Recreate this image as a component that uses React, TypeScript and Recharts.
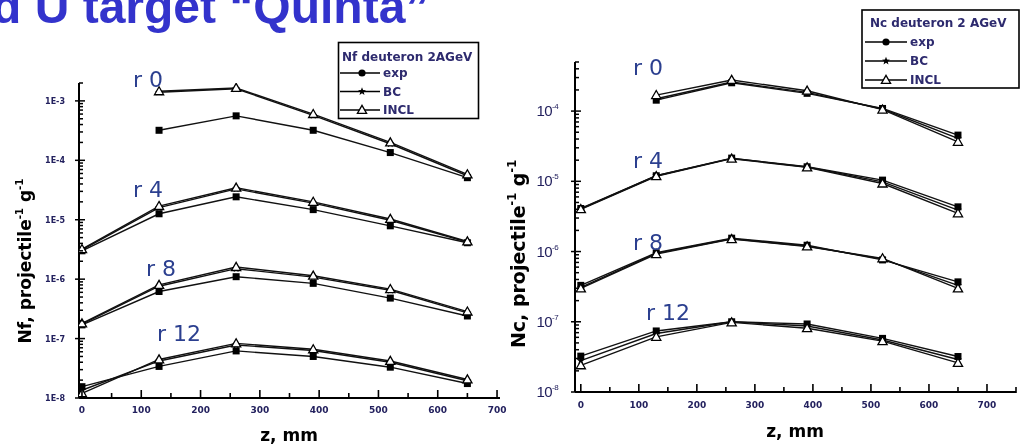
import React from 'react';
import { LineChart, Line, XAxis, YAxis } from 'recharts';

// Positions along the target (z, mm) where the detectors sit
const Z_MM = [0, 130, 260, 390, 520, 650];
const RING_NAMES = ['r 0', 'r 4', 'r 8', 'r 12'];
const MODEL_NAMES = ['exp', 'BC', 'INCL'];

// Nf, projectile^-1 g^-1 (fission rate)
const NF_R0_EXP = [null, 3.2e-4, 5.6e-4, 3.2e-4, 1.35e-4, 5.1e-5];
const NF_R0_BC = [null, 1.4e-3, 1.6e-3, 5.7e-4, 1.9e-4, 5.5e-5];
const NF_R0_INCL = [null, 1.45e-3, 1.65e-3, 6.0e-4, 2.0e-4, 5.8e-5];
const NF_R4_EXP = [3.0e-6, 1.26e-5, 2.43e-5, 1.48e-5, 7.9e-6, 4.1e-6];
const NF_R4_BC = [3.1e-6, 1.6e-5, 3.3e-5, 1.9e-5, 9.8e-6, 4.2e-6];
const NF_R4_INCL = [3.2e-6, 1.7e-5, 3.45e-5, 2.0e-5, 1.03e-5, 4.3e-6];
const NF_R8_EXP = [1.7e-7, 6.2e-7, 1.1e-6, 8.5e-7, 4.8e-7, 2.4e-7];
const NF_R8_BC = [1.75e-7, 7.6e-7, 1.5e-6, 1.08e-6, 6.5e-7, 2.7e-7];
const NF_R8_INCL = [1.8e-7, 8.0e-7, 1.6e-6, 1.14e-6, 6.8e-7, 2.85e-7];
const NF_R12_EXP = [1.55e-8, 3.4e-8, 6.2e-8, 5.0e-8, 3.3e-8, 1.75e-8];
const NF_R12_BC = [1.35e-8, 4.2e-8, 7.8e-8, 6.3e-8, 4.0e-8, 1.95e-8];
const NF_R12_INCL = [1.2e-8, 4.45e-8, 8.3e-8, 6.6e-8, 4.2e-8, 2.05e-8];

// Nc, projectile^-1 g^-1 (capture rate)
const NC_R0_EXP = [null, 1.43e-4, 2.53e-4, 1.79e-4, 1.09e-4, 4.55e-5];
const NC_R0_BC = [null, 1.5e-4, 2.6e-4, 1.85e-4, 1.07e-4, 4.1e-5];
const NC_R0_INCL = [null, 1.69e-4, 2.77e-4, 1.95e-4, 1.05e-4, 3.65e-5];
const NC_R4_EXP = [4.1e-6, 1.2e-5, 2.14e-5, 1.61e-5, 1.04e-5, 4.33e-6];
const NC_R4_BC = [4.05e-6, 1.2e-5, 2.12e-5, 1.6e-5, 9.8e-6, 3.9e-6];
const NC_R4_INCL = [4.0e-6, 1.18e-5, 2.1e-5, 1.58e-5, 9.3e-6, 3.5e-6];
const NC_R8_EXP = [3.3e-7, 9.6e-7, 1.55e-6, 1.23e-6, 7.6e-7, 3.7e-7];
const NC_R8_BC = [3.1e-7, 9.4e-7, 1.52e-6, 1.2e-6, 7.8e-7, 3.3e-7];
const NC_R8_INCL = [2.98e-7, 9.2e-7, 1.5e-6, 1.18e-6, 8.0e-7, 2.98e-7];
const NC_R12_EXP = [3.24e-8, 7.4e-8, 1.0e-7, 9.3e-8, 5.8e-8, 3.2e-8];
const NC_R12_BC = [2.8e-8, 6.8e-8, 1.0e-7, 8.7e-8, 5.5e-8, 2.9e-8];
const NC_R12_INCL = [2.4e-8, 6.1e-8, 9.8e-8, 8.1e-8, 5.3e-8, 2.6e-8];

// Axis ranges and tick values
const NF_Y_DOMAIN: [number, number] = [1e-8, 2e-3];
const NC_Y_DOMAIN: [number, number] = [1e-8, 5e-4];
const NF_X_DOMAIN: [number, number] = [-5, 705];
const NC_X_DOMAIN: [number, number] = [-10, 750];
const NF_X_TICKS = [0, 50, 100, 150, 200, 250, 300, 350, 400, 450, 500, 550, 600, 650, 700];
const NC_X_TICKS = [0, 50, 100, 150, 200, 250, 300, 350, 400, 450, 500, 550, 600, 650, 700, 750];

const NF_TITLE = 'Nf deuteron 2AGeV';
const NC_TITLE = 'Nc deuteron 2 AGeV';

const NF_GROUPS = [
  [NF_R0_EXP, NF_R0_BC, NF_R0_INCL],
  [NF_R4_EXP, NF_R4_BC, NF_R4_INCL],
  [NF_R8_EXP, NF_R8_BC, NF_R8_INCL],
  [NF_R12_EXP, NF_R12_BC, NF_R12_INCL],
];
const NC_GROUPS = [
  [NC_R0_EXP, NC_R0_BC, NC_R0_INCL],
  [NC_R4_EXP, NC_R4_BC, NC_R4_INCL],
  [NC_R8_EXP, NC_R8_BC, NC_R8_INCL],
  [NC_R12_EXP, NC_R12_BC, NC_R12_INCL],
];

const FONT = "'DejaVu Sans', 'Liberation Sans', sans-serif";
const TICK_COLOR = '#23215e';
const RING_COLOR = '#2b3f8f';
const TICK_MARGIN = 10;

function buildRows(groups: (number | null)[][][]) {
  return Z_MM.map((z, i) => {
    const row: Record<string, number | null> = { z };
    groups.forEach((g, ri) => g.forEach((vals, mi) => { row[`s${ri}_${mi}`] = vals[i]; }));
    return row;
  });
}

function logTicks(lo: number, hi: number) {
  const out: number[] = [];
  for (let e = Math.floor(Math.log10(lo)); e <= Math.ceil(Math.log10(hi)); e++) {
    for (let m = 1; m <= 9; m++) {
      const v = parseFloat((m * Math.pow(10, e)).toPrecision(2));
      if (v >= lo * 0.999 && v <= hi * 1.001) out.push(v);
    }
  }
  return out;
}

const NF_ROWS = buildRows(NF_GROUPS);
const NC_ROWS = buildRows(NC_GROUPS);
const NF_Y_TICKS = logTicks(NF_Y_DOMAIN[0], NF_Y_DOMAIN[1]);
const NC_Y_TICKS = logTicks(NC_Y_DOMAIN[0], NC_Y_DOMAIN[1]);

const isDecade = (v: number) => Math.abs(Math.log10(v) - Math.round(Math.log10(v))) < 1e-6;

function starPath(cx: number, cy: number, ro: number, ri: number) {
  const pts: string[] = [];
  for (let k = 0; k < 10; k++) {
    const r = k % 2 === 0 ? ro : ri;
    const a = -Math.PI / 2 + (k * Math.PI) / 5;
    pts.push(`${(cx + r * Math.cos(a)).toFixed(2)},${(cy + r * Math.sin(a)).toFixed(2)}`);
  }
  return `M${pts.join('L')}Z`;
}

function Marker({ model, cx, cy, legend }: { model: number; cx: number; cy: number; legend?: boolean }) {
  if (model === 0) {
    return legend ? (
      <circle cx={cx} cy={cy} r={3.6} fill="#000" />
    ) : (
      <rect x={cx - 3.5} y={cy - 3.5} width={7} height={7} fill="#000" />
    );
  }
  if (model === 1) {
    return <path d={starPath(cx, cy, 4.2, 1.8)} fill="#000" />;
  }
  const s = 4.6;
  return (
    <path
      d={`M${cx},${cy - s}L${cx + s},${cy + s * 0.75}L${cx - s},${cy + s * 0.75}Z`}
      fill="#fff"
      stroke="#000"
      strokeWidth={1.3}
    />
  );
}

const dotRenderer = (model: number) => (p: any) => {
  const { cx, cy, index, value, dataKey } = p;
  const key = `${dataKey}-${index}`;
  if (cx == null || cy == null || value == null || Number.isNaN(cy)) return <g key={key} />;
  return (
    <g key={key}>
      <Marker model={model} cx={cx} cy={cy} />
    </g>
  );
};
const DOT_EXP = dotRenderer(0);
const DOT_BC = dotRenderer(1);
const DOT_INCL = dotRenderer(2);
const DOTS = [DOT_EXP, DOT_BC, DOT_INCL];

// Log axis ticks: short inward marks, decades cross the axis line and carry a label
const YTickE = (p: any) => {
  const v = p.payload.value as number;
  const ax = p.x + TICK_MARGIN;
  const major = isDecade(v);
  return (
    <g>
      <path d={`M${major ? ax - 4 : ax},${p.y}H${ax + (major ? 6 : 4)}`} stroke="#000" strokeWidth={1.5} fill="none" />
      {major ? (
        <text x={ax - 14} y={p.y + 3} textAnchor="end" fontFamily={FONT} fontWeight="bold" fontSize={8} fill={TICK_COLOR}>
          {`1E${Math.round(Math.log10(v))}`}
        </text>
      ) : null}
    </g>
  );
};

const YTickPow = (p: any) => {
  const v = p.payload.value as number;
  const ax = p.x + TICK_MARGIN;
  const major = isDecade(v);
  return (
    <g>
      <path d={`M${major ? ax - 4 : ax},${p.y}H${ax + (major ? 6 : 4)}`} stroke="#000" strokeWidth={1.5} fill="none" />
      {major ? (
        <text x={ax - 17} y={p.y + 5} textAnchor="end" fontFamily="'Liberation Sans', Arial, sans-serif" fontSize={15} fill={TICK_COLOR} letterSpacing={-0.6}>
          10
          <tspan dy={-7} fontSize={8}>{`${Math.round(Math.log10(v))}`}</tspan>
        </text>
      ) : null}
    </g>
  );
};

const XTickNf = (p: any) => {
  const v = p.payload.value as number;
  const ay = p.y - TICK_MARGIN;
  const major = v % 100 === 0;
  return (
    <g>
      <path d={`M${p.x},${ay + 1}V${ay - (major ? 8 : 5)}`} stroke="#000" strokeWidth={1.6} fill="none" />
      {major ? (
        <text x={p.x} y={ay + 15} textAnchor="middle" fontFamily={FONT} fontWeight="bold" fontSize={9} fill={TICK_COLOR}>
          {v}
        </text>
      ) : null}
    </g>
  );
};

const XTickNc = (p: any) => {
  const v = p.payload.value as number;
  const ay = p.y - TICK_MARGIN;
  const major = v % 100 === 0;
  return (
    <g>
      <path d={`M${p.x},${ay + 1}V${ay - (major ? 8 : 5)}`} stroke="#000" strokeWidth={1.6} fill="none" />
      {major ? (
        <text x={p.x} y={ay + 16} textAnchor="middle" fontFamily={FONT} fontWeight="bold" fontSize={9} fill={TICK_COLOR}>
          {v}
        </text>
      ) : null}
    </g>
  );
};

function seriesLines(groups: (number | null)[][][]) {
  return groups.flatMap((g, ri) =>
    g.map((_, mi) => (
      <Line
        key={`s${ri}_${mi}`}
        dataKey={`s${ri}_${mi}`}
        name={`${RING_NAMES[ri]} ${MODEL_NAMES[mi]}`}
        type="linear"
        stroke="#111"
        strokeWidth={1.4}
        dot={DOTS[mi]}
        activeDot={false}
        connectNulls={false}
        isAnimationActive={false}
      />
    ))
  );
}

function LegendBox({ x, y, w, h, title, titleX, titleY, rowYs, lineX0, lineX1, markX, textX }: any) {
  return (
    <g>
      <rect x={x} y={y} width={w} height={h} fill="#fff" stroke="#000" strokeWidth={1.6} />
      <text x={titleX} y={titleY} fontFamily={FONT} fontWeight="bold" fontSize={12} fill="#2d2a6e">{title}</text>
      {MODEL_NAMES.map((m, i) => (
        <g key={m}>
          <line x1={lineX0} x2={lineX1} y1={rowYs[i]} y2={rowYs[i]} stroke="#000" strokeWidth={1.4} />
          <Marker model={i} cx={markX} cy={rowYs[i]} legend />
          <text x={textX} y={rowYs[i] + 4} fontFamily={FONT} fontWeight="bold" fontSize={12} fill="#2d2a6e">{m}</text>
        </g>
      ))}
    </g>
  );
}

function RotatedTitle({ x, y, main, size }: { x: number; y: number; main: string; size: number }) {
  return (
    <text
      transform={`translate(${x},${y}) rotate(-90)`}
      textAnchor="middle"
      fontFamily={FONT}
      fontWeight="bold"
      fontSize={size}
      fill="#000"
    >
      {main}
      <tspan dy={-size * 0.45} fontSize={size * 0.6}>-1</tspan>
      <tspan dy={size * 0.45}> g</tspan>
      <tspan dy={-size * 0.45} fontSize={size * 0.6}>-1</tspan>
    </text>
  );
}

export default function App() {
  const ringText = { fontFamily: FONT, fontSize: 22, fill: RING_COLOR } as const;
  return (
    <div style={{ position: 'fixed', left: 0, top: 0, width: 1026, height: 444 }}>
      <div style={{ position: 'absolute', left: 0, top: 0 }}>
        <LineChart width={513} height={444} data={NF_ROWS} margin={{ top: 83, right: 13, bottom: 16, left: 19 }}>
          <XAxis
            dataKey="z"
            type="number"
            domain={NF_X_DOMAIN}
            allowDataOverflow
            ticks={NF_X_TICKS}
            interval={0}
            tick={XTickNf}
            tickSize={0}
            tickMargin={TICK_MARGIN}
            tickLine={false}
            axisLine={{ stroke: '#000', strokeWidth: 2 }}
            height={30}
          />
          <YAxis
            type="number"
            scale="log"
            domain={NF_Y_DOMAIN}
            allowDataOverflow
            ticks={NF_Y_TICKS}
            interval={0}
            tick={YTickE}
            tickSize={0}
            tickMargin={TICK_MARGIN}
            tickLine={false}
            axisLine={{ stroke: '#000', strokeWidth: 2 }}
            width={60}
          />
          {seriesLines(NF_GROUPS)}
        </LineChart>
      </div>
      <div style={{ position: 'absolute', left: 513, top: 0 }}>
        <LineChart width={513} height={444} data={NC_ROWS} margin={{ top: 62, right: 10, bottom: 22, left: 2 }}>
          <XAxis
            dataKey="z"
            type="number"
            domain={NC_X_DOMAIN}
            allowDataOverflow
            ticks={NC_X_TICKS}
            interval={0}
            tick={XTickNc}
            tickSize={0}
            tickMargin={TICK_MARGIN}
            tickLine={false}
            axisLine={{ stroke: '#000', strokeWidth: 2 }}
            height={30}
          />
          <YAxis
            type="number"
            scale="log"
            domain={NC_Y_DOMAIN}
            allowDataOverflow
            ticks={NC_Y_TICKS}
            interval={0}
            tick={YTickPow}
            tickSize={0}
            tickMargin={TICK_MARGIN}
            tickLine={false}
            axisLine={{ stroke: '#000', strokeWidth: 2 }}
            width={60}
          />
          {seriesLines(NC_GROUPS)}
        </LineChart>
      </div>
      <svg width={1026} height={444} style={{ position: 'absolute', left: 0, top: 0, pointerEvents: 'none' }}>
        <text x={-8} y={23} fontFamily="'Liberation Sans', Arial, sans-serif" fontWeight="bold" fontSize={48} fill="#3333cc">
          d U target “Quinta”
        </text>

        <text x={133} y={87} {...ringText}>{RING_NAMES[0]}</text>
        <text x={133} y={197} {...ringText}>{RING_NAMES[1]}</text>
        <text x={146} y={276} {...ringText}>{RING_NAMES[2]}</text>
        <text x={157} y={341} {...ringText}>{RING_NAMES[3]}</text>

        <text x={633} y={75} {...ringText}>{RING_NAMES[0]}</text>
        <text x={633} y={168} {...ringText}>{RING_NAMES[1]}</text>
        <text x={633} y={250} {...ringText}>{RING_NAMES[2]}</text>
        <text x={646} y={320} {...ringText}>{RING_NAMES[3]}</text>

        <RotatedTitle x={31} y={261} main="Nf, projectile" size={17} />
        <RotatedTitle x={525} y={254} main="Nc, projectile" size={19} />

        <text x={289} y={441} textAnchor="middle" fontFamily={FONT} fontWeight="bold" fontSize={17} fill="#000">z, mm</text>
        <text x={795} y={437} textAnchor="middle" fontFamily={FONT} fontWeight="bold" fontSize={17} fill="#000">z, mm</text>

        <LegendBox x={338.5} y={42.5} w={140} h={76} title={NF_TITLE} titleX={342} titleY={61} rowYs={[73, 91.5, 110]} lineX0={340} lineX1={380} markX={362} textX={383} />
        <LegendBox x={862} y={10} w={157} h={78} title={NC_TITLE} titleX={870} titleY={27} rowYs={[42, 61, 80]} lineX0={865} lineX1={907} markX={886} textX={910} />
      </svg>
    </div>
  );
}
